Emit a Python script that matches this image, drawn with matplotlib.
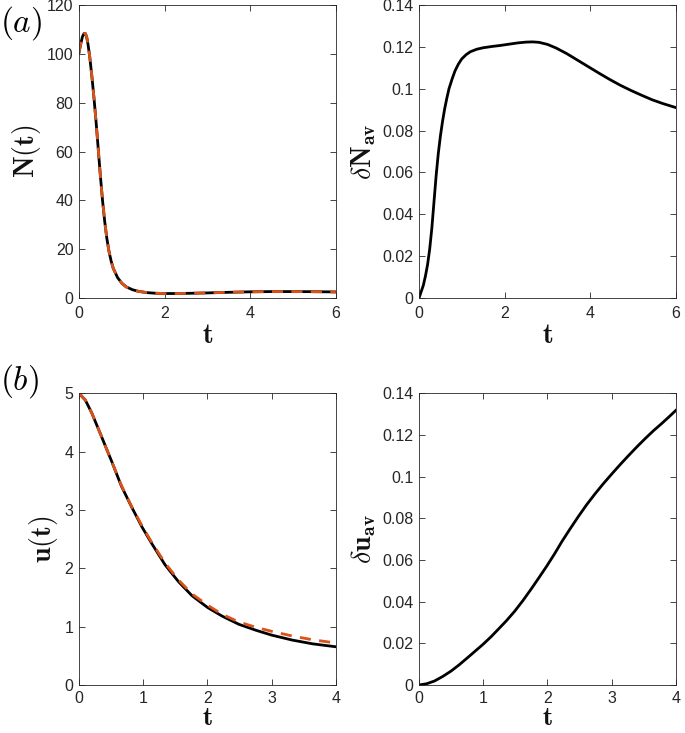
import numpy as np
import matplotlib.pyplot as plt

plt.rcParams['mathtext.fontset'] = 'cm'
plt.rcParams['font.family'] = ['Liberation Sans', 'DejaVu Sans']

# N(t), panel (a) left: black = full model, orange dashed = reduced model
t_N = [0, 0.04, 0.08, 0.12, 0.15, 0.18, 0.21, 0.25, 0.3, 0.35, 0.4, 0.45, 0.5, 0.55,
       0.6, 0.65, 0.7, 0.75, 0.8, 0.9, 1.0, 1.1, 1.25, 1.4, 1.6, 1.8, 2.0, 2.3, 2.6,
       3.0, 3.5, 4.0, 4.5, 5.0, 5.5, 6.0]
N_exact = [100.5, 104.0, 107.0, 108.4, 108.3, 106.9, 104.0, 99.0, 91.0, 82.0, 72.0,
           61.0, 50.0, 40.0, 31.5, 24.5, 19.2, 15.2, 12.2, 8.4, 6.1, 4.6, 3.4, 2.7,
           2.2, 1.95, 1.85, 1.85, 1.95, 2.1, 2.35, 2.55, 2.65, 2.65, 2.6, 2.5]
N_approx = [100.5, 104.0, 107.0, 108.4, 108.3, 106.9, 104.0, 99.0, 91.0, 82.0, 72.0,
            61.0, 50.0, 40.0, 31.5, 24.5, 19.2, 15.2, 12.2, 8.4, 6.1, 4.6, 3.4, 2.7,
            2.2, 1.95, 1.85, 1.85, 1.95, 2.1, 2.35, 2.55, 2.65, 2.65, 2.6, 2.5]

# delta N_av, panel (a) right
t_dN = [0, 0.05, 0.1, 0.15, 0.2, 0.25, 0.3, 0.35, 0.4, 0.45, 0.5, 0.55, 0.6, 0.65,
        0.7, 0.77, 0.84, 0.92, 1.0, 1.1, 1.2, 1.35, 1.5, 1.7, 1.9, 2.1, 2.3, 2.5,
        2.65, 2.8, 3.0, 3.2, 3.45, 3.7, 3.95, 4.2, 4.45, 4.7, 4.95, 5.2, 5.45, 5.7,
        6.0]
dN = [0, 0.003, 0.006, 0.0105, 0.016, 0.0235, 0.0335, 0.046, 0.0585, 0.069, 0.0775,
      0.0845, 0.0905, 0.0955, 0.1, 0.1045, 0.1085, 0.1118, 0.1143, 0.1163, 0.1177,
      0.1189, 0.1196, 0.1202, 0.1207, 0.1213, 0.1219, 0.1223, 0.1224, 0.1222, 0.1212,
      0.1195, 0.1168, 0.1137, 0.1106, 0.1075, 0.1045, 0.1017, 0.0992, 0.0969, 0.0947,
      0.0929, 0.0910]

# u(t), panel (b) left
t_u = [0, 0.1, 0.2, 0.35, 0.51, 0.66, 0.82, 0.98, 1.13, 1.34, 1.55, 1.76, 2.0, 2.23,
       2.49, 2.75, 3.0, 3.32, 3.64, 4.0]
u_exact = [5.0, 4.88, 4.66, 4.26, 3.83, 3.41, 3.05, 2.71, 2.43, 2.06, 1.77, 1.53,
           1.33, 1.18, 1.04, 0.94, 0.855, 0.77, 0.705, 0.655]
u_approx = [5.0, 4.88, 4.66, 4.26, 3.83, 3.42, 3.06, 2.73, 2.45, 2.09, 1.80, 1.56,
            1.37, 1.21, 1.08, 0.99, 0.92, 0.84, 0.775, 0.72]

# delta u_av, panel (b) right
t_du = [0, 0.12, 0.24, 0.37, 0.5, 0.63, 0.76, 0.88, 1.0, 1.12, 1.23, 1.36, 1.49,
        1.62, 1.75, 1.87, 1.99, 2.11, 2.22, 2.35, 2.48, 2.61, 2.74, 2.87, 3.0, 3.13,
        3.26, 3.39, 3.52, 3.65, 3.78, 3.89, 4.0]
du = [0, 0.0006, 0.0019, 0.0041, 0.0067, 0.0098, 0.0132, 0.0164, 0.0196, 0.0231,
      0.0266, 0.0308, 0.0354, 0.0406, 0.0462, 0.0516, 0.0571, 0.0629, 0.0686, 0.0748,
      0.0808, 0.0865, 0.0917, 0.0966, 0.1012, 0.1057, 0.1100, 0.1142, 0.1182, 0.1220,
      0.1255, 0.1286, 0.1318]

orange = '#D95319'
axcol = '#262626'

fig = plt.figure(figsize=(6.85, 7.33), dpi=100)
ax1 = fig.add_axes([0.1153, 0.5934, 0.375, 0.3997])
ax2 = fig.add_axes([0.6117, 0.5934, 0.375, 0.3997])
ax3 = fig.add_axes([0.1153, 0.0655, 0.375, 0.398])
ax4 = fig.add_axes([0.6117, 0.0655, 0.375, 0.398])

frac_ticks = [0, 0.02, 0.04, 0.06, 0.08, 0.1, 0.12, 0.14]
frac_labels = ['0', '0.02', '0.04', '0.06', '0.08', '0.1', '0.12', '0.14']

ax1.plot(t_N, N_exact, color='black', lw=2)
ax1.plot(t_N, N_approx, color=orange, lw=2, dashes=(4, 3))
ax1.set_xlim(0, 6)
ax1.set_ylim(0, 120)
ax1.set_xticks([0, 2, 4, 6])
ax1.set_yticks(np.arange(0, 121, 20))
ax1.set_ylabel(r'$\mathbf{N(t)}$', fontsize=20, labelpad=3)
ax1.set_xlabel(r'$\mathbf{t}$', fontsize=20, labelpad=1)

ax2.plot(t_dN, dN, color='black', lw=2)
ax2.set_xlim(0, 6)
ax2.set_ylim(0, 0.14)
ax2.set_xticks([0, 2, 4, 6])
ax2.set_yticks(frac_ticks)
ax2.set_yticklabels(frac_labels)
ax2.set_ylabel(r'$\delta\mathbf{N}_{\mathbf{av}}$', fontsize=20, labelpad=3)
ax2.set_xlabel(r'$\mathbf{t}$', fontsize=20, labelpad=1)

ax3.plot(t_u, u_exact, color='black', lw=2)
ax3.plot(t_u, u_approx, color=orange, lw=2, dashes=(4, 3))
ax3.set_xlim(0, 4)
ax3.set_ylim(0, 5)
ax3.set_xticks([0, 1, 2, 3, 4])
ax3.set_yticks([0, 1, 2, 3, 4, 5])
ax3.set_ylabel(r'$\mathbf{u(t)}$', fontsize=20, labelpad=3)
ax3.set_xlabel(r'$\mathbf{t}$', fontsize=19, labelpad=0)

ax4.plot(t_du, du, color='black', lw=2)
ax4.set_xlim(0, 4)
ax4.set_ylim(0, 0.14)
ax4.set_xticks([0, 1, 2, 3, 4])
ax4.set_yticks(frac_ticks)
ax4.set_yticklabels(frac_labels)
ax4.set_ylabel(r'$\delta\mathbf{u}_{\mathbf{av}}$', fontsize=20, labelpad=3)
ax4.set_xlabel(r'$\mathbf{t}$', fontsize=19, labelpad=0)

for ax in (ax1, ax2, ax3, ax4):
    for s in ax.spines.values():
        s.set_color(axcol)
        s.set_linewidth(0.6)
    ax.tick_params(direction='in', top=True, right=True, length=4, width=0.6,
                   colors=axcol, labelsize=11.5)
    ax.tick_params(axis='x', pad=6)
    ax.tick_params(axis='y', pad=4)
    ax.yaxis.label.set_color('#111111')
    ax.xaxis.label.set_color('#111111')

for ax in (ax3, ax4):
    ax.tick_params(axis='x', pad=4.5)

fig.text(0.0, 0.995, r'$(a)$', fontsize=24, ha='left', va='top')
fig.text(0.0, 0.506, r'$(b)$', fontsize=24, ha='left', va='top')

fig.savefig('out.png', dpi=100)
